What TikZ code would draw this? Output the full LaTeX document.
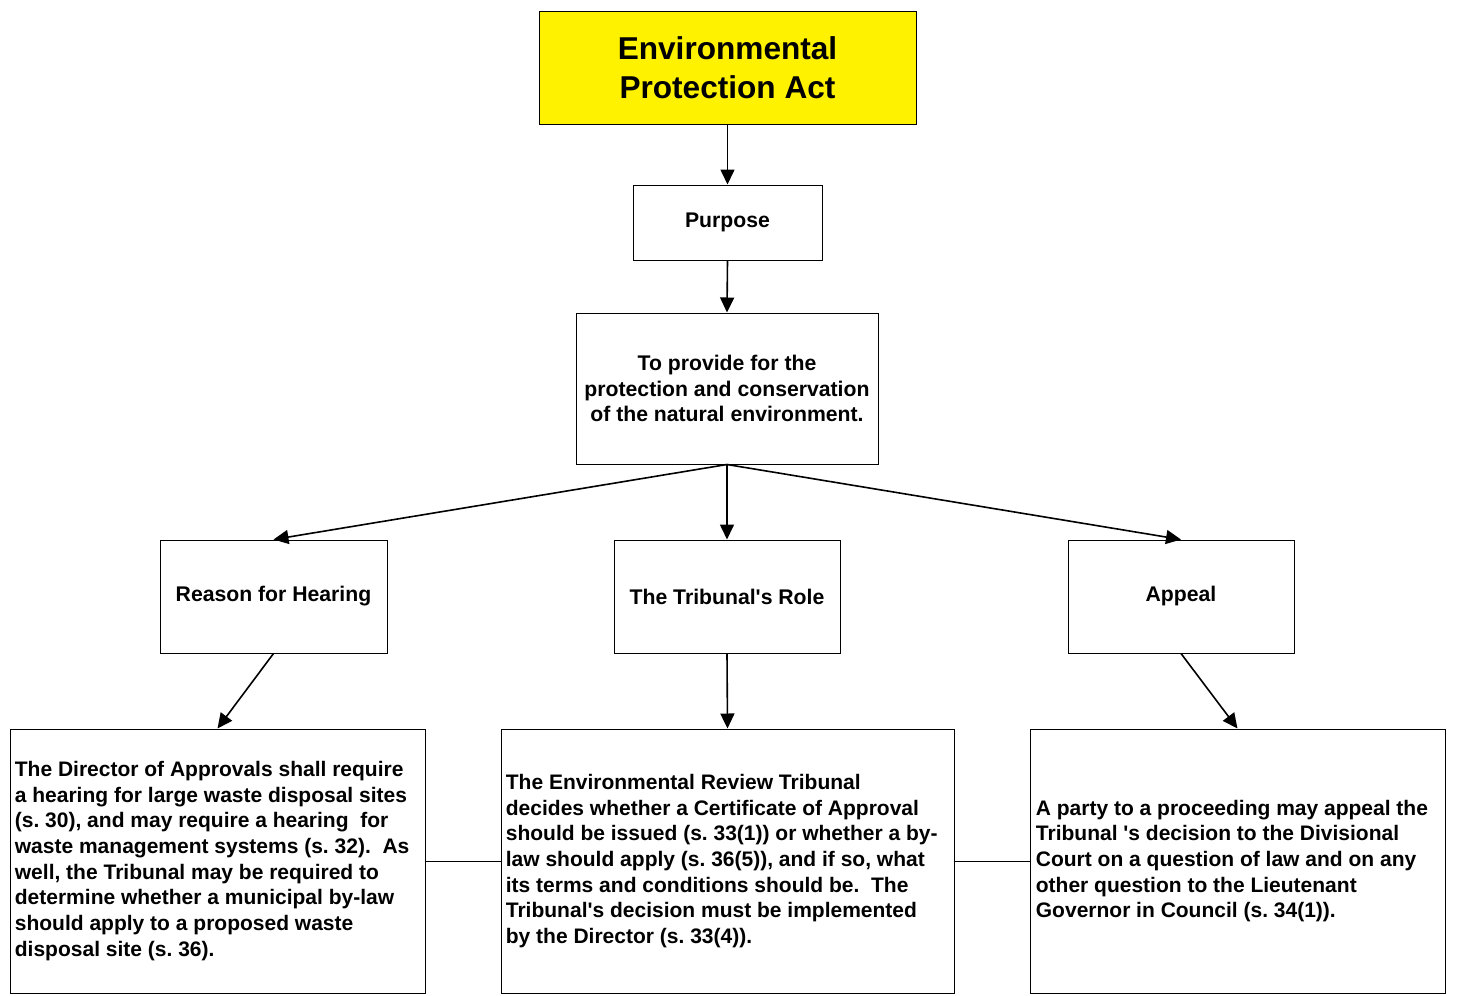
\documentclass[tikz,border=0pt]{standalone}
\usepackage{fontspec}
\setmainfont{Liberation Sans}
\usetikzlibrary{arrows.meta,calc}
\frenchspacing
\tikzset{
  box/.style={draw=black, line width=0.5pt, fill=white, font=\fontsize{10.6}{12.85}\selectfont\bfseries, align=center, inner sep=0pt},
  plainbox/.style={draw=black, line width=0.5pt, fill=white, inner sep=0pt},
  bodytext/.style={font=\fontsize{10.5}{12.85}\selectfont\bfseries, align=left, inner sep=0pt, anchor=west},
  titlebox/.style={draw=black, line width=0.5pt, fill=yellow, font=\fontsize{15.8}{19.5}\selectfont\bfseries, align=center, inner sep=0pt},
  arr/.style={line width=0.8pt, -{Triangle[length=7.5pt,width=7pt]}},
  link/.style={line width=0.5pt}
}
\newcommand{\apos}{\textquotesingle}
\begin{document}
\begin{tikzpicture}[x=0.5pt,y=-0.5pt]
\useasboundingbox (0,0) rectangle (1463,996);
\node[titlebox, minimum width=188.5pt, minimum height=56.5pt] (title) at (727.5,67.5) {Environmental\\Protection Act};
\node[box, minimum width=94.5pt, minimum height=37.5pt] (purpose) at (727.5,222.5) {Purpose};
\node[box, minimum width=151pt, minimum height=75.5pt] (desc) at (727,388.5) {To provide for the\\protection and conservation\\of the natural environment.};
\node[box, minimum width=113.5pt, minimum height=56.5pt] (reason) at (273.5,596.5) {Reason for Hearing};
\node[box, minimum width=113pt, minimum height=56.5pt] (role) at (727,596.5) {The Tribunal\apos s Role};
\node[box, minimum width=113pt, minimum height=56.5pt] (appeal) at (1181,596.5) {Appeal};
\node[plainbox, minimum width=207.5pt, minimum height=132pt] (bl) at (217.5,861) {};
\node[plainbox, minimum width=226.5pt, minimum height=132pt] (bm) at (727.5,861) {};
\node[plainbox, minimum width=207.5pt, minimum height=132pt] (br) at (1237.5,861) {};
\node[bodytext] (bltext) at ($(bl.west)+(5,0)$) {The Director of Approvals shall require\\a hearing for large waste disposal sites\\(s. 30), and may require a hearing\ \ for\\waste management systems (s. 32).\ \ As\\well, the Tribunal may be required to\\determine whether a municipal by-law\\should apply to a proposed waste\\disposal site (s. 36).};
\node[bodytext] (bmtext) at ($(bm.west)+(5,0)$) {The Environmental Review Tribunal\\decides whether a Certificate of Approval\\should be issued (s. 33(1)) or whether a by-\\law should apply (s. 36(5)), and if so, what\\its terms and conditions should be.\ \ The\\Tribunal\apos s decision must be implemented\\by the Director (s. 33(4)).};
\node[bodytext] (brtext) at ($(br.west)+(6,0)$) {A party to a proceeding may appeal the\\Tribunal \apos s decision to the Divisional\\Court on a question of law and on any\\other question to the Lieutenant\\Governor in Council (s. 34(1)).};
\draw[arr] (title.south) -- (purpose.north);
\draw[arr] (purpose.south) -- (desc.north);
\draw[arr] (desc.south) -- (reason.north);
\draw[arr] (desc.south) -- (role.north);
\draw[arr] (desc.south) -- (appeal.north);
\draw[arr] (reason.south) -- (bl.north);
\draw[arr] (role.south) -- (bm.north);
\draw[arr] (appeal.south) -- (br.north);
\draw[link] (bl.east) -- (bm.west);
\draw[link] (bm.east) -- (br.west);
\end{tikzpicture}
\end{document}
